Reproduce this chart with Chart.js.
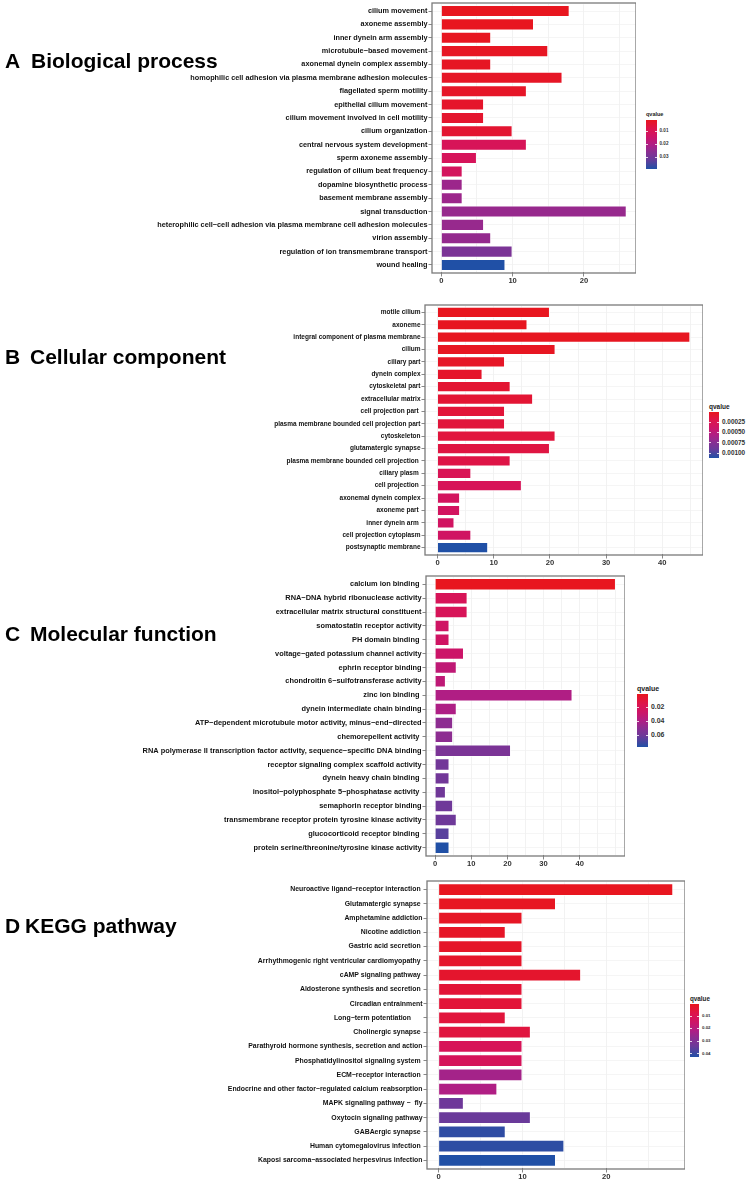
<!DOCTYPE html>
<html>
<head>
<meta charset="utf-8">
<script src="https://cdn.jsdelivr.net/npm/chart.js@4.4.1/dist/chart.umd.min.js"></script>
<style>
  body { margin: 0; width: 750px; height: 1186px; background: #fff; position: relative; overflow: hidden;
         font-family: "Liberation Sans", Arial, sans-serif; }
  canvas { position: absolute; left: 0; }
  .panel { position: absolute; font-weight: bold; font-size: 21px; color: #000; white-space: nowrap; line-height: 1; }
  .lg { position: absolute; white-space: nowrap; line-height: 1; }
</style>
</head>
<body>
<canvas id="bp"></canvas>
<canvas id="cc"></canvas>
<canvas id="mf"></canvas>
<canvas id="kegg"></canvas>

<div class="panel" style="left:5px; top:50px;">A</div>
<div class="panel" style="left:31px; top:50px;">Biological process</div>
<div class="panel" style="left:5px; top:346px;">B</div>
<div class="panel" style="left:30px; top:346px;">Cellular component</div>
<div class="panel" style="left:5px; top:623px;">C</div>
<div class="panel" style="left:30px; top:623px;">Molecular function</div>
<div class="panel" style="left:5px; top:915px;">D</div>
<div class="panel" style="left:25px; top:915px;">KEGG pathway</div>

<script>
// ---- A: Biological process
const bpTerms = [
  "cilium movement", "axoneme assembly", "inner dynein arm assembly", "microtubule−based movement",
  "axonemal dynein complex assembly", "homophilic cell adhesion via plasma membrane adhesion molecules",
  "flagellated sperm motility", "epithelial cilium movement", "cilium movement involved in cell motility",
  "cilium organization", "central nervous system development", "sperm axoneme assembly",
  "regulation of cilium beat frequency", "dopamine biosynthetic process", "basement membrane assembly",
  "signal transduction", "heterophilic cell−cell adhesion via plasma membrane cell adhesion molecules",
  "virion assembly", "regulation of ion transmembrane transport", "wound healing"
];
const bpCounts = [18, 13, 7, 15, 7, 17, 12, 6, 6, 10, 12, 5, 3, 3, 3, 26, 6, 7, 10, 9];
const bpQvalues = [0.0006, 0.0008, 0.001, 0.0012, 0.0015, 0.0018, 0.002, 0.0025, 0.003, 0.0035,
  0.0101, 0.0105, 0.0113, 0.0228, 0.0228, 0.0236, 0.0236, 0.024, 0.0282, 0.039];
const bpTicks = [0, 10, 20];
const bpLegendTicks = [0.01, 0.02, 0.03];

// ---- B: Cellular component
const ccTerms = [
  "motile cilium", "axoneme", "integral component of plasma membrane", "cilium", "ciliary part",
  "dynein complex", "cytoskeletal part", "extracellular matrix", "cell projection part ",
  "plasma membrane bounded cell projection part", "cytoskeleton", "glutamatergic synapse",
  "plasma membrane bounded cell projection ", "ciliary plasm ", "cell projection ", "axonemal dynein complex",
  "axoneme part ", "inner dynein arm ", "cell projection cytoplasm", "postsynaptic membrane"
];
const ccCounts = [20, 16, 45, 21, 12, 8, 13, 17, 12, 12, 21, 20, 13, 6, 15, 4, 4, 3, 6, 9];
const ccQvalues = [0.000005, 0.00001, 0.00001, 0.00002, 0.00004, 0.00006, 0.00009, 0.0001, 0.00012,
  0.00013, 0.00014, 0.00016, 0.00018, 0.00026, 0.00028, 0.00032, 0.00033, 0.00034, 0.00035, 0.00112];
const ccTicks = [0, 10, 20, 30, 40];
const ccLegendTicks = [0.00025, 0.0005, 0.00075, 0.001];

// ---- C: Molecular function
const mfTerms = [
  "calcium ion binding ", "RNA−DNA hybrid ribonuclease activity", "extracellular matrix structural constituent",
  "somatostatin receptor activity", "PH domain binding ", "voltage−gated potassium channel activity",
  "ephrin receptor binding", "chondroitin 6−sulfotransferase activity", "zinc ion binding ",
  "dynein intermediate chain binding", "ATP−dependent microtubule motor activity, minus−end−directed",
  "chemorepellent activity ", "RNA polymerase II transcription factor activity, sequence−specific DNA binding",
  "receptor signaling complex scaffold activity", "dynein heavy chain binding ",
  "inositol−polyphosphate 5−phosphatase activity ", "semaphorin receptor binding",
  "transmembrane receptor protein tyrosine kinase activity", "glucocorticoid receptor binding ",
  "protein serine/threonine/tyrosine kinase activity"
];
const mfCounts = [50, 9, 9, 4, 4, 8, 6, 3, 38, 6, 5, 5, 21, 4, 4, 3, 5, 6, 4, 4];
const mfQvalues = [0.0003, 0.019, 0.019, 0.0243, 0.0243, 0.0266, 0.032, 0.0325, 0.038, 0.0385,
  0.0486, 0.0486, 0.0547, 0.0578, 0.058, 0.0585, 0.059, 0.0595, 0.0646, 0.076];
const mfTicks = [0, 10, 20, 30, 40];
const mfLegendTicks = [0.02, 0.04, 0.06];

// ---- D: KEGG pathway
const keggTerms = [
  "Neuroactive ligand−receptor interaction ", "Glutamatergic synapse ", "Amphetamine addiction",
  "Nicotine addiction ", "Gastric acid secretion ", "Arrhythmogenic right ventricular cardiomyopathy ",
  "cAMP signaling pathway ", "Aldosterone synthesis and secretion ", "Circadian entrainment",
  "Long−term potentiation      ", "Cholinergic synapse ", "Parathyroid hormone synthesis, secretion and action",
  "Phosphatidylinositol signaling system ", "ECM−receptor interaction ",
  "Endocrine and other factor−regulated calcium reabsorption", "MAPK signaling pathway −  fly",
  "Oxytocin signaling pathway", "GABAergic synapse ", "Human cytomegalovirus infection ",
  "Kaposi sarcoma−associated herpesvirus infection"
];
const keggCounts = [28, 14, 10, 8, 10, 10, 17, 10, 10, 8, 11, 10, 10, 10, 7, 3, 11, 8, 15, 14];
const keggQvalues = [0.0008, 0.0012, 0.0016, 0.002, 0.0024, 0.0026, 0.003, 0.0047, 0.0049, 0.0055,
  0.006, 0.011, 0.0115, 0.0235, 0.0215, 0.0332, 0.034, 0.0407, 0.041, 0.0424];
const keggTicks = [0, 10, 20];
const keggLegendTicks = [0.01, 0.02, 0.03, 0.04];

// red -> blue colour scale (low qvalue = red)
const scaleStops = [
  [0.00, [232, 22, 30]],
  [0.20, [220, 20, 80]],
  [0.35, [204, 20, 104]],
  [0.50, [176, 30, 132]],
  [0.65, [138, 46, 146]],
  [0.80, [106, 58, 154]],
  [0.92, [62, 72, 160]],
  [1.00, [32, 80, 166]]
];

const FONT = "'Liberation Sans', Arial, sans-serif";
const charts = [];

function scaleColor(t) {
  t = Math.max(0, Math.min(1, t));
  for (let i = 1; i < scaleStops.length; i++) {
    const [t1, c1] = scaleStops[i];
    const [t0, c0] = scaleStops[i - 1];
    if (t <= t1) {
      const f = (t - t0) / (t1 - t0);
      const c = c0.map((v, k) => Math.round(v + (c1[k] - v) * f));
      return `rgb(${c[0]},${c[1]},${c[2]})`;
    }
  }
  return "rgb(32,80,166)";
}

// grey frame round the panel; ggplot pads a discrete axis by 0.6 of a band,
// chart.js by 0.5, so the frame sits a bit outside the chart area (ext)
const boxPlugin = {
  id: "panelBox",
  afterDraw(chart, args, opts) {
    const a = chart.chartArea;
    const ext = opts.ext || 0;
    const ctx = chart.ctx;
    ctx.save();
    ctx.strokeStyle = "#7a7a7a";
    ctx.lineWidth = 1.3;
    ctx.strokeRect(a.left, a.top - ext, a.right - a.left, a.bottom - a.top + 2 * ext);
    ctx.restore();
  }
};

function generateBarChart(id, terms, counts, qvals, qmin, qmax, xTicks, box, labelSize) {
  const band = (box.bottom - box.top) / (terms.length + 0.2);
  const ext = 0.1 * band;
  const padTop = 5 + ext;
  const axisH = 17 + ext;
  const canvas = document.getElementById(id);
  canvas.width = Math.round(box.right);
  canvas.height = Math.round(box.bottom - box.top + 5 + 17);
  canvas.style.top = (box.top - 5) + "px";

  const maxV = Math.max(...counts);
  const step = xTicks[1] - xTicks[0];
  const gridVals = [];
  for (let v = 0; v <= maxV * 1.05; v += step / 2) gridVals.push(v);

  const colors = qvals.map((q) => scaleColor((q - qmin) / (qmax - qmin)));

  const chart = new Chart(canvas.getContext("2d"), {
    type: "bar",
    data: {
      labels: terms,
      datasets: [{
        data: counts,
        backgroundColor: colors,
        borderColor: "rgba(255,255,255,0.7)",
        borderWidth: 1,
        barPercentage: 0.9,
        categoryPercentage: 1
      }]
    },
    options: {
      indexAxis: "y",
      responsive: false,
      animation: false,
      layout: { padding: { top: padTop, right: 0, bottom: 0, left: 0 } },
      plugins: { legend: { display: false }, tooltip: { enabled: false }, panelBox: { ext: ext } },
      scales: {
        x: {
          type: "linear",
          min: -0.05 * maxV,
          max: 1.05 * maxV,
          afterBuildTicks: (s) => { s.ticks = gridVals.map((v) => ({ value: v })); },
          afterFit: (s) => { s.height = axisH; },
          ticks: {
            autoSkip: false,
            maxRotation: 0,
            padding: 0,
            color: "#333",
            font: { family: FONT, size: 7.6, weight: "bold" },
            callback: (v) => (xTicks.includes(v) ? String(v) : "")
          },
          grid: {
            color: "#ececec",
            lineWidth: 0.7,
            tickLength: 3.5 + ext,
            tickColor: (ctx) => (ctx.tick && xTicks.includes(ctx.tick.value) ? "#555" : "rgba(0,0,0,0)")
          },
          border: { display: false }
        },
        y: {
          afterFit: (s) => { s.width = box.left; },
          ticks: {
            autoSkip: false,
            padding: 1,
            color: "#111",
            font: { family: FONT, size: labelSize, weight: "bold" }
          },
          grid: { offset: false, color: "#f0f0f0", lineWidth: 0.7, tickLength: 3.5, tickColor: "#555" },
          border: { display: false }
        }
      }
    },
    plugins: [boxPlugin]
  });
  charts.push(chart);
}

function generateLegend(lg, qmin, qmax, ticks, fmt) {
  const body = document.body;
  const h = lg.bottom - lg.top;
  const title = document.createElement("div");
  title.className = "lg";
  title.textContent = "qvalue";
  title.style.cssText += `left:${lg.x}px; top:${lg.top - lg.titleSize - 2}px; font-size:${lg.titleSize}px; font-weight:bold; color:#222;`;
  body.appendChild(title);

  const stops = [];
  for (let i = 0; i <= 20; i++) stops.push(`${scaleColor(i / 20)} ${i * 5}%`);
  const bar = document.createElement("div");
  bar.className = "lg";
  bar.style.cssText += `left:${lg.x}px; top:${lg.top}px; width:${lg.w}px; height:${h}px; background:linear-gradient(to bottom, ${stops.join(",")});`;
  body.appendChild(bar);

  ticks.forEach((v) => {
    const y = lg.top + ((v - qmin) / (qmax - qmin)) * h;
    [0, lg.w - 2].forEach((dx) => {
      const tk = document.createElement("div");
      tk.className = "lg";
      tk.style.cssText += `left:${lg.x + dx}px; top:${y - 0.5}px; width:2px; height:1px; background:rgba(255,255,255,0.8);`;
      body.appendChild(tk);
    });
    const lab = document.createElement("div");
    lab.className = "lg";
    lab.textContent = fmt(v);
    lab.style.cssText += `left:${lg.x + lg.w + 3}px; top:${y - lg.labelSize / 2}px; font-size:${lg.labelSize}px; font-weight:bold; color:#333;`;
    body.appendChild(lab);
  });
}

function init() {
  generateBarChart("bp", bpTerms, bpCounts, bpQvalues, 0.0005, 0.039, bpTicks,
    { left: 432, right: 636, top: 3, bottom: 273 }, 7.3);
  generateBarChart("cc", ccTerms, ccCounts, ccQvalues, 0, 0.00112, ccTicks,
    { left: 425, right: 702.5, top: 304.5, bottom: 554 }, 6.5);
  generateBarChart("mf", mfTerms, mfCounts, mfQvalues, 0, 0.076, mfTicks,
    { left: 426, right: 625, top: 575.5, bottom: 855 }, 7.4);
  generateBarChart("kegg", keggTerms, keggCounts, keggQvalues, 0.0005, 0.0424, keggTicks,
    { left: 427, right: 684.5, top: 880.5, bottom: 1168.5 }, 6.9);

  generateLegend({ x: 646, w: 10.5, top: 119.5, bottom: 169, titleSize: 5.5, labelSize: 4.6 },
    0.0005, 0.039, bpLegendTicks, (v) => v.toFixed(2));
  generateLegend({ x: 709, w: 10, top: 412, bottom: 458, titleSize: 6.5, labelSize: 6.4 },
    0, 0.00112, ccLegendTicks, (v) => v.toFixed(5));
  generateLegend({ x: 637, w: 11, top: 694, bottom: 747, titleSize: 7, labelSize: 6.9 },
    0, 0.076, mfLegendTicks, (v) => v.toFixed(2));
  generateLegend({ x: 690, w: 9, top: 1004, bottom: 1057, titleSize: 6.3, labelSize: 4.4 },
    0.0005, 0.0424, keggLegendTicks, (v) => v.toFixed(2));
}

window.onload = init;
</script>
</body>
</html>
